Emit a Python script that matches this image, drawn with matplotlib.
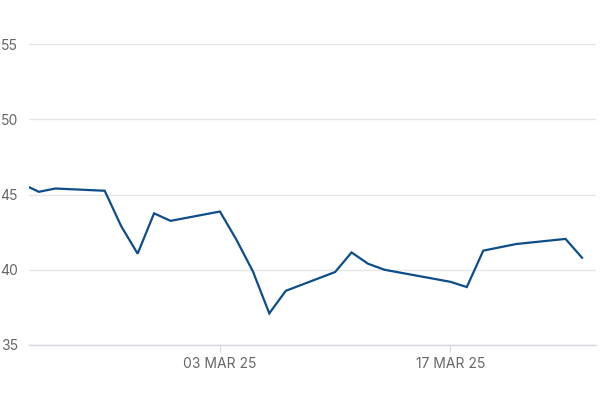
import matplotlib
matplotlib.use("Agg")
import matplotlib.pyplot as plt
import matplotlib.dates as mdates
import pandas as pd
import numpy as np

dates = ["2025-02-19", "2025-02-20", "2025-02-21", "2025-02-24", "2025-02-25",
         "2025-02-26", "2025-02-27", "2025-02-28", "2025-03-03", "2025-03-04",
         "2025-03-05", "2025-03-06", "2025-03-07", "2025-03-10", "2025-03-11",
         "2025-03-12", "2025-03-13", "2025-03-17", "2025-03-18", "2025-03-19",
         "2025-03-21", "2025-03-24", "2025-03-25"]
values = [45.7, 45.18, 45.4, 45.25, 42.9,
          41.07, 43.75, 43.25, 43.87, 42.0,
          39.9, 37.1, 38.6, 39.85, 41.15,
          40.4, 40.0, 39.2, 38.85, 41.27,
          41.71, 42.05, 40.8]
y_ticks = [35, 40, 45, 50, 55]
x_tick_dates = ["2025-03-03", "2025-03-17"]
x_tick_labels = ["03 MAR 25", "17 MAR 25"]

plt.rcParams['font.family'] = ['Inter', 'DejaVu Sans']

x = pd.to_datetime(dates)
fig = plt.figure(figsize=(6, 4), dpi=100)
ax = fig.add_axes([29/600, 1-345/400, (596-29)/600, (345-29)/400])

ax.plot(x, values, color='#0d4d8a', lw=1.6, solid_joinstyle='miter', clip_on=True)

ref = pd.Timestamp("2025-03-03")
ax.set_xlim(ref - pd.Timedelta(days=11.6), ref + pd.Timedelta(days=22.85))
ax.set_ylim(35, 56)
ax.set_yticks(y_ticks)
ax.set_yticklabels([str(v) for v in y_ticks])
ax.set_xticks(pd.to_datetime(x_tick_dates))
ax.set_xticklabels(x_tick_labels)

ax.grid(axis='y', color='#e6e6e6', lw=1)
ax.set_axisbelow(True)
for s in ['top', 'right', 'left']:
    ax.spines[s].set_visible(False)
ax.spines['bottom'].set_color('#d5d7de')
ax.spines['bottom'].set_linewidth(1)
ax.tick_params(axis='y', length=0, pad=8, labelsize=10, labelcolor='#666666')
ax.tick_params(axis='x', length=5, color='#d5d7de', pad=4, labelsize=10, labelcolor='#666666')

fig.savefig("out.png", dpi=100)
